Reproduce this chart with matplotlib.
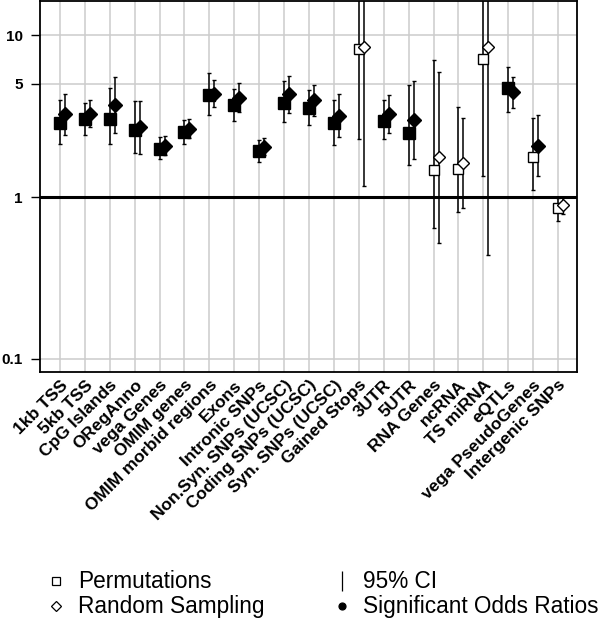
import numpy as np
import matplotlib.pyplot as plt
from matplotlib.lines import Line2D

plt.rcParams['font.family'] = ['Liberation Sans', 'DejaVu Sans']

# ----- data -----
categories = ['1kb TSS', '5kb TSS', 'CpG Islands', 'ORegAnno', 'vega Genes',
              'OMIM genes', 'OMIM morbid regions', 'Exons', 'Intronic SNPs',
              'Non.Syn. SNPs (UCSC)', 'Coding SNPs (UCSC)', 'Syn. SNPs (UCSC)',
              'Gained Stops', '3UTR', '5UTR', 'RNA Genes', 'ncRNA', 'TS miRNA',
              'eQTLs', 'vega PseudoGenes', 'Intergenic SNPs']

perm_or = [2.88, 3.03, 3.03, 2.59, 1.98, 2.51, 4.26, 3.70, 1.93, 3.79, 3.53,
           2.85, 8.20, 2.94, 2.47, 1.47, 1.50, 7.14, 4.69, 1.77, 0.85]
perm_lo = [2.12, 2.41, 2.12, 1.87, 1.71, 2.12, 3.21, 2.96, 1.64, 2.92, 2.78,
           2.10, 2.27, 2.27, 1.57, 0.64, 0.81, 1.35, 3.36, 1.11, 0.71]
perm_hi = [4.00, 3.79, 4.73, 3.90, 2.34, 2.99, 5.80, 4.64, 2.25, 5.20, 4.58,
           3.97, 40.0, 3.95, 4.91, 7.01, 3.61, 40.0, 6.37, 3.09, 0.99]
perm_sig = [1, 1, 1, 1, 1, 1, 1, 1, 1, 1, 1, 1, 0, 1, 1, 0, 0, 0, 1, 0, 0]

rand_or = [3.25, 3.25, 3.70, 2.69, 2.07, 2.62, 4.32, 4.07, 2.04, 4.30, 3.97,
           3.18, 8.47, 3.25, 2.99, 1.76, 1.63, 8.47, 4.47, 2.08, 0.89]
rand_lo = [2.42, 2.70, 2.49, 1.85, 1.81, 2.31, 3.58, 3.35, 1.81, 3.29, 3.16,
           2.34, 1.17, 2.47, 1.71, 0.52, 0.86, 0.44, 3.53, 1.35, 0.79]
rand_hi = [4.32, 3.95, 5.48, 3.93, 2.38, 3.02, 5.27, 5.03, 2.31, 5.58, 4.94,
           4.30, 60.0, 4.28, 5.22, 5.89, 3.06, 60.0, 5.53, 3.21, 1.00]
rand_sig = [1, 1, 1, 1, 1, 1, 1, 1, 1, 1, 1, 1, 0, 1, 1, 0, 0, 0, 1, 1, 0]

ytick_vals = [0.1, 1, 5, 10]
ytick_labels = ['0.1', '1', '5', '10']

# ----- figure -----
fig = plt.figure(figsize=(6.0, 6.22), dpi=100)
ax = fig.add_axes([0.0667, 0.402, 0.895, 0.596])

x = np.arange(len(categories))
offset = 0.2

ax.set_yscale('log')
ax.set_ylim(0.083, 16.2)
ax.set_xlim(-0.8, 20.76)

# grid
for xi in x:
    ax.axvline(xi, color='#cccccc', lw=1.1, zorder=0)
for yv in ytick_vals:
    ax.axhline(yv, color='#cccccc', lw=1.1, zorder=0)
ax.axhline(1, color='black', lw=2.2, zorder=1)

def draw_series(xs, orr, lo, hi, sig, marker, ms):
    orr = np.array(orr)
    err = np.vstack([orr - np.array(lo), np.array(hi) - orr])
    ax.errorbar(xs, orr, yerr=err, fmt='none', ecolor='black',
                elinewidth=1.1, capsize=1.6, capthick=1.0, zorder=2)
    sig = np.array(sig, dtype=bool)
    ax.plot(xs[sig], orr[sig], linestyle='none', marker=marker, ms=ms,
            mfc='black', mec='black', zorder=3)
    ax.plot(xs[~sig], orr[~sig], linestyle='none', marker=marker, ms=ms * 0.85,
            mfc='white', mec='black', mew=1.0, zorder=3)

draw_series(x, perm_or, perm_lo, perm_hi, perm_sig, 's', 8.5)
draw_series(x + offset, rand_or, rand_lo, rand_hi, rand_sig, 'D', 7.0)

ax.set_yticks(ytick_vals)
ax.set_yticklabels(ytick_labels, fontsize=11, fontweight='bold')
ax.yaxis.set_minor_locator(plt.NullLocator())
ax.tick_params(axis='y', length=6.5, width=1.0, pad=6)

ax.set_xticks(x)
ax.set_xticklabels(categories, rotation=45, ha='right', va='top',
                   rotation_mode='anchor', fontsize=12.5, fontweight='bold')
ax.tick_params(axis='x', length=0, pad=4)

for sp in ax.spines.values():
    sp.set_linewidth(1.3)

# ----- legend -----
def legend_entry(xm, xt, y, marker, label, mfc='white', ms=6):
    fig.add_artist(Line2D([xm], [y], transform=fig.transFigure, marker=marker,
                          ms=ms, mfc=mfc, mec='black', mew=0.9, linestyle='none'))
    fig.text(xt, y, label, fontsize=16.3, va='center', ha='left')

y1 = 1 - 581 / 622
y2 = 1 - 606 / 622
legend_entry(56 / 600, 78 / 600, y1, 's', 'Permutations', ms=5.5)
legend_entry(56 / 600, 78 / 600, y2, 'D', 'Random Sampling', ms=5)
legend_entry(342 / 600, 363 / 600, y1, '|', '95% CI', ms=15)
legend_entry(342 / 600, 363 / 600, y2, 'o', 'Significant Odds Ratios', mfc='black', ms=5)

fig.savefig('out.png', dpi=100)
